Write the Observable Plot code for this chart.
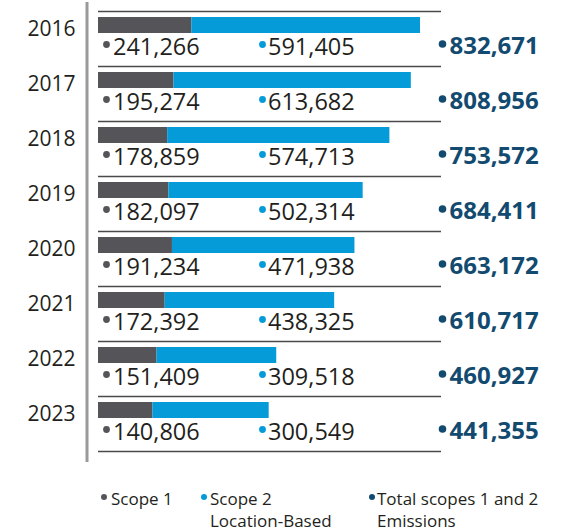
<!DOCTYPE html>
<html>
<head>
<meta charset="utf-8">
<script src="https://cdn.jsdelivr.net/npm/d3@7"></script>
<script src="https://cdn.jsdelivr.net/npm/@observablehq/plot@0.6"></script>
<style>
  body { margin: 0; background: #fff; font-family: "Open Sans", sans-serif; }
  #wrap { width: 565px; }
  .legend { position: relative; width: 565px; height: 61px; font-size: 17px; line-height: 22px; color: #231f20; }
  .legend .item { position: absolute; top: 18px; }
  .legend .dot { position: absolute; width: 6px; height: 6px; border-radius: 50%; }
</style>
</head>
<body>
<div id="wrap"></div>
<script>
const years = [2016, 2017, 2018, 2019, 2020, 2021, 2022, 2023];
const scope1 = [241266, 195274, 178859, 182097, 191234, 172392, 151409, 140806];
const scope2 = [591405, 613682, 574713, 502314, 471938, 438325, 309518, 300549];
const total = [832671, 808956, 753572, 684411, 663172, 610717, 460927, 441355];
const seriesNames = ["Scope 1", "Scope 2 Location-Based"];
const legendLabels = ["Scope 1", "Scope 2<br>Location-Based", "Total scopes 1 and 2<br>Emissions"];

const colors = { s1: "#555459", s2: "#059bd8", total: "#124a70", text: "#231f20" };

const rows = years.map((y, i) => ({ year: y, s1: scope1[i], s2: scope2[i], total: total[i] }));
const long = [];
rows.forEach(r => {
  long.push({ year: r.year, series: seriesNames[0], value: r.s1 });
  long.push({ year: r.year, series: seriesNames[1], value: r.s2 });
});
const fmt = d3.format(",");
const font = "Open Sans";

const chart = Plot.plot({
  width: 565,
  height: 470,
  marginLeft: 98,
  marginRight: 124,
  marginTop: 3,
  marginBottom: 10,
  style: { fontFamily: font, background: "#fff" },
  x: { domain: [0, 887000], axis: null },
  y: { type: "band", domain: years, padding: 0, insetTop: 8, insetBottom: 9, axis: null },
  color: { domain: seriesNames, range: [colors.s1, colors.s2] },
  marks: [
    Plot.frame({ anchor: "left", dx: -11.5, stroke: "#9a9a9a", strokeWidth: 3 }),
    Plot.ruleY(years, { y: d => d, dy: -27.5, stroke: "#4a4a4a", strokeWidth: 1.3 }),
    Plot.ruleY(years.slice(-1), { y: d => d, dy: 27.5, stroke: "#4a4a4a", strokeWidth: 1.3 }),
    Plot.barX(long, { x: "value", y: "year", fill: "series", insetTop: 6, insetBottom: 33 }),
    Plot.text(rows, { x: 0, y: "year", text: d => String(d.year), textAnchor: "end", dx: -23, dy: -9.5, fontSize: 21, fill: colors.text }),
    Plot.dot(rows, { x: 0, y: "year", dx: 8, dy: 5.5, r: 3.4, fill: colors.s1, stroke: null }),
    Plot.text(rows, { x: 0, y: "year", text: d => fmt(d.s1), textAnchor: "start", dx: 14.5, dy: 8, fontSize: 23.5, fill: colors.text }),
    Plot.dot(rows, { x: 0, y: "year", dx: 164, dy: 5.5, r: 3.4, fill: colors.s2, stroke: null }),
    Plot.text(rows, { x: 0, y: "year", text: d => fmt(d.s2), textAnchor: "start", dx: 169.5, dy: 8, fontSize: 23.5, fill: colors.text }),
    Plot.dot(rows, { x: 0, y: "year", dx: 344, dy: 5, r: 3.8, fill: colors.total, stroke: null }),
    Plot.text(rows, { x: 0, y: "year", text: d => fmt(d.total), textAnchor: "start", dx: 351, dy: 7, fontSize: 24, fontWeight: "bold", fill: colors.total })
  ]
});

const wrap = document.getElementById("wrap");
wrap.appendChild(chart);

const legend = document.createElement("div");
legend.className = "legend";
const legendColors = [colors.s1, colors.s2, colors.total];
const legendX = [104, 204, 372];
const textX = [111, 210, 377];
legendLabels.forEach((lab, i) => {
  const dot = document.createElement("span");
  dot.className = "dot";
  dot.style.left = (legendX[i] - 3) + "px";
  dot.style.top = "24px";
  dot.style.background = legendColors[i];
  legend.appendChild(dot);
  const t = document.createElement("div");
  t.className = "item";
  t.style.left = textX[i] + "px";
  t.innerHTML = lab;
  legend.appendChild(t);
});
wrap.appendChild(legend);
</script>
</body>
</html>
